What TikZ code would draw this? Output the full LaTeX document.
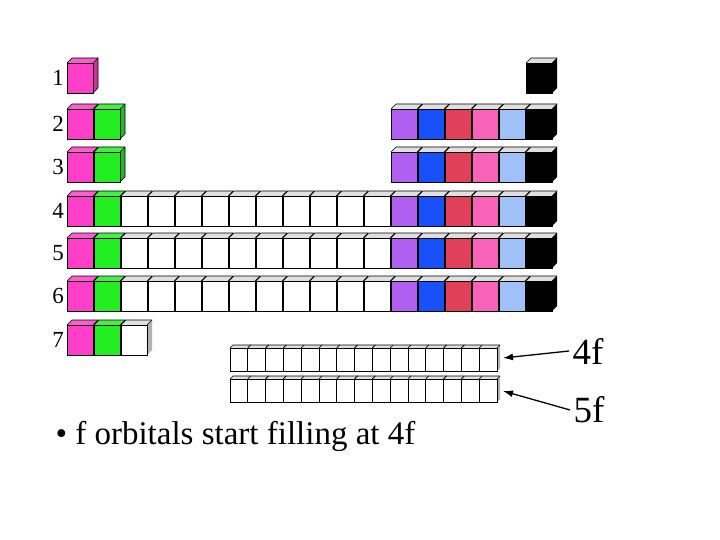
\documentclass[tikz,border=0pt]{standalone}
\usepackage{fontspec}
\setmainfont{Liberation Serif}
\usetikzlibrary{arrows.meta}
\definecolor{cpink}{HTML}{FF3FC8}
\definecolor{cgreen}{HTML}{22EE22}
\definecolor{cpurple}{HTML}{B060F0}
\definecolor{cblue}{HTML}{1A50F8}
\definecolor{cred}{HTML}{E0405A}
\definecolor{cpinkb}{HTML}{F862B8}
\definecolor{clblue}{HTML}{A0C0F8}
\newcommand\mycube[6]{% x y w h d color
  \fill[#6!80!black] (#1+#3,#2) -- ++(#5,-#5) -- ++(0,#4) -- ++(-#5,#5) -- cycle;
  \fill[#6!85!white] (#1,#2) -- ++(#5,-#5) -- ++(#3,0) -- ++(-#5,#5) -- cycle;
  \draw[line width=0.8pt,fill=#6] (#1,#2) rectangle ++(#3,#4);
  \draw[line width=0.6pt] (#1,#2) -- ++(#5,-#5) -- ++(#3,0) -- ++(0,#4) -- ++(-#5,#5);
  \draw[line width=0.6pt] (#1+#3,#2) -- ++(#5,-#5);
}
\newcommand\pcube[6]{% p-block: grey top
  \fill[#6!70!black] (#1+#3,#2) -- ++(#5,-#5) -- ++(0,#4) -- ++(-#5,#5) -- cycle;
  \fill[gray!25] (#1,#2) -- ++(#5,-#5) -- ++(#3,0) -- ++(-#5,#5) -- cycle;
  \draw[line width=0.8pt,fill=#6] (#1,#2) rectangle ++(#3,#4);
  \draw[line width=0.6pt] (#1,#2) -- ++(#5,-#5) -- ++(#3,0);
  \draw[line width=0.6pt] (#1+#3,#2) -- ++(#5,-#5);
}
\tikzset{rowlab/.style={font=\fontsize{23}{23}\selectfont, anchor=center},
  big/.style={font=\fontsize{37}{37}\selectfont},
  arr/.style={-{Latex[length=10pt,width=7pt]}, line width=1.3pt}}
\begin{document}
\begin{tikzpicture}[x=1pt,y=-1pt]
\useasboundingbox (0,0) rectangle (720,540);
% row labels
\foreach \r/\yy in {1/78,2/124,3/167,4/211,5/253,6/296,7/340}
  \node[rowlab] (lab\r) at (58,\yy) {\r};
% s-block
\foreach \yy in {78,124,167,211,253,296,340}
  \mycube{67}{\yy-15}{26}{30}{5}{cpink};
\foreach \yy in {124,167,211,253,296,340}
  \mycube{94}{\yy-15}{26}{30}{5}{cgreen};
% d-block
\foreach \yy in {211,253,296}
  \foreach \c in {0,...,9}
    \pcube{121+27*\c}{\yy-15}{26}{30}{5}{white};
\pcube{121}{325}{26}{30}{5}{white};
% p-block
\foreach \yy in {124,167,211,253,296}{
  \pcube{391}{\yy-15}{26}{30}{5}{cpurple};
  \pcube{418}{\yy-15}{26}{30}{5}{cblue};
  \pcube{445}{\yy-15}{26}{30}{5}{cred};
  \pcube{472}{\yy-15}{26}{30}{5}{cpinkb};
  \pcube{499}{\yy-15}{26}{30}{5}{clblue};
  \pcube{526}{\yy-15}{26}{30}{5}{black};
}
\pcube{526}{63}{26}{30}{5}{black};
% f-block
\foreach \yy in {348,379}
  \foreach \c in {0,...,14}
    \pcube{230+17.8*\c}{\yy}{17.8}{23}{3}{white};
\coordinate (f4) at (503,358);
\coordinate (f5) at (503,391);
\node[big] (l4) at (588,351) {4f};
\node[big] (l5) at (589,410) {5f};
\draw[arr] (l4.west) -- (f4);
\draw[arr] (l5.west) -- (f5);
\node[font=\fontsize{33}{33}\selectfont, anchor=west] (bul) at (52,436) {\textbullet\ f orbitals start filling at 4f};
\end{tikzpicture}
\end{document}
